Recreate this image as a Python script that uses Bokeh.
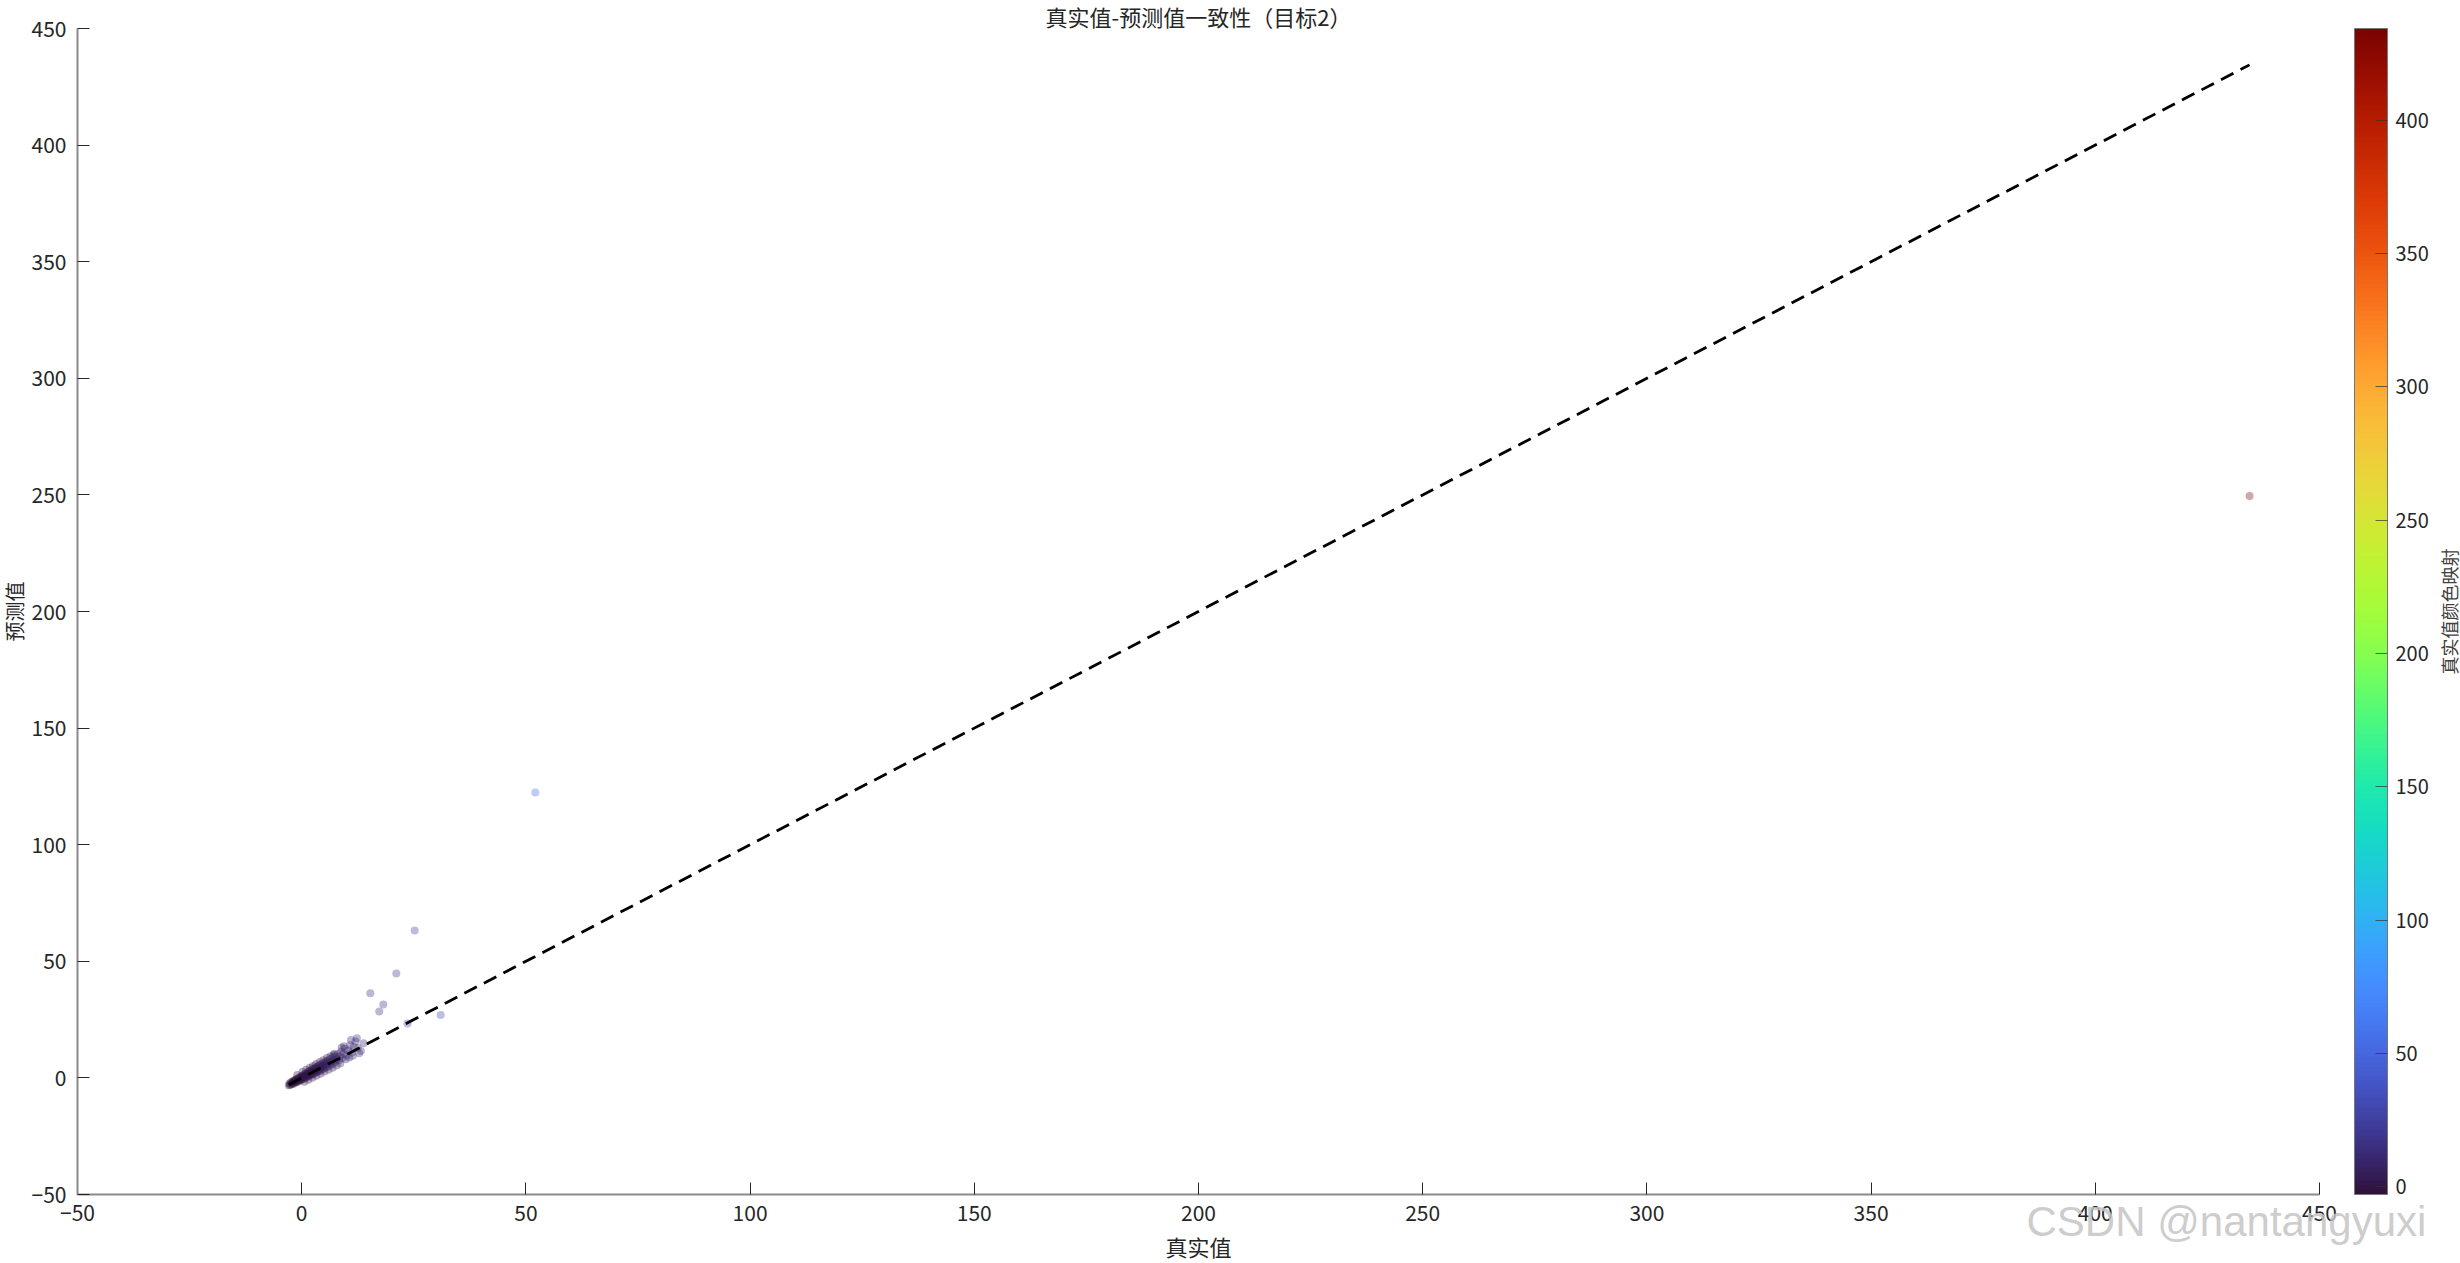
from bokeh.plotting import figure
from bokeh.models import ColumnDataSource, LinearColorMapper, ColorBar, FixedTicker, Label
from bokeh.palettes import Turbo256
from bokeh.transform import transform
from bokeh.embed import file_html
from bokeh.resources import INLINE

# ---------------- data ----------------
true_vals = [
    -2.9, -2.7, -2.6, -2.4, -2.3, -2.1, -2.0, -1.9, -1.8, -1.7, -1.6, -1.5, -1.4, -1.3,
    -1.2, -1.1, -1.0, -0.9, -0.8, -0.7, -0.6, -0.5, -0.4, -0.3, -0.2, -0.1, 0.0, 0.0,
    0.1, 0.2, 0.3, 0.4, 0.5, 0.6, 0.7, 0.8, 0.9, 1.0, 1.1, 1.2, 1.3, 1.4, 1.5, 1.6,
    1.7, 1.8, 1.9, 2.0, 2.1, 2.2, 2.3, 2.4, 2.5, 2.6, 2.7, 2.8, 2.9, 3.0, 3.1, 3.2,
    3.3, 3.4, 3.5, 3.6, 3.7, 3.8, 3.9, 4.0, 4.2, 4.3, 4.4, 4.6, 4.7, 4.8, 5.0, 5.1,
    5.2, 5.4, 5.5, 5.6, 5.8, 6.0, 6.1, 6.3, 6.5, 6.6, 6.8, 7.0, 7.2, 7.4, 7.6, 7.8,
    8.0, 8.3, 8.5, 8.8, 9.0, 9.3, 9.6, 10.0, 10.4, 10.8, 11.2, 11.6, 12.0, 12.5, 13.2,
    13.8, 9.4, 11.0, 12.3, 7.1, 8.9,
    -1.0, 0.2, 1.0, 1.8, 2.5, 3.2, 4.0, 4.8, 5.6, 6.4, 7.3, 0.6, 1.5, 2.4, 3.3, 4.2,
    5.1, 6.0, 6.9, 7.8, 8.6, 9.8, 10.6, 11.4, 12.8,
    23.6, 17.3, 18.2, 15.3, 21.1, 25.2, 31.0, 52.1, 434.4,
]
pred_vals = [
    -3.2, -2.4, -3.0, -1.9, -2.7, -2.2, -1.5, -2.6, -1.2, -2.0, -1.6, -0.9, -2.1, -1.3,
    -0.6, -1.8, -1.0, -0.3, -1.5, -0.8, 0.1, -1.2, -0.5, 0.4, -0.9, -0.2, 0.7, -0.6,
    0.1, 1.0, -0.4, 0.5, 1.4, -0.1, 0.8, 1.7, 0.2, 1.1, 2.0, 0.5, 1.4, 2.4, 0.8, 1.7,
    2.8, 1.0, 2.0, 3.1, 1.3, 2.4, 3.5, 1.6, 2.7, 3.8, 1.9, 3.0, 4.1, 2.2, 3.3, 4.5,
    2.5, 3.7, 4.8, 2.8, 4.0, 5.2, 3.0, 4.3, 5.6, 3.4, 4.7, 6.0, 3.8, 5.1, 6.5, 4.2,
    5.5, 7.0, 4.6, 6.0, 7.4, 5.1, 6.5, 8.0, 5.6, 7.0, 8.6, 6.2, 7.6, 9.3, 6.9, 8.3,
    10.1, 7.6, 9.2, 11.2, 8.4, 10.3, 12.5, 9.6, 11.8, 14.0, 10.9, 13.2, 15.6, 12.8, 11.5,
    14.9, 13.6, 16.2, 17.0, 9.8, 12.9,
    1.2, 2.6, 3.5, 4.3, 5.1, 6.0, 6.8, 7.6, 8.5, 9.3, 10.4, -1.6, -0.8, 0.1, 0.9, 1.8,
    2.7, 3.5, 4.4, 5.3, 6.2, 8.0, 8.7, 9.5, 10.6,
    23.3, 28.5, 31.5, 36.3, 44.8, 63.2, 27.0, 122.4, 249.5,
]

x_ticks = [-50, 0, 50, 100, 150, 200, 250, 300, 350, 400, 450]
y_ticks = [-50, 0, 50, 100, 150, 200, 250, 300, 350, 400, 450]
cbar_ticks = [0, 50, 100, 150, 200, 250, 300, 350, 400]

title_text = "真实值-预测值一致性（目标2）"
x_label = "真实值"
y_label = "预测值"
cbar_label = "真实值颜色映射"
watermark = "CSDN @nantangyuxi"

# ---------------- layout constants (pixels from the picture's top-left) ----------------
ORIGIN = 0                 # where the figure's canvas starts in the picture
FIG_W, FIG_H = 2460, 1263
AX_L, AX_R = 77, 2319      # x=-50 and x=450
AX_T, AX_B = 28, 1194      # y=450 and y=-50
X0, X1, Y0, Y1 = -50, 450, -50, 450
sx = (AX_R - AX_L) / (X1 - X0)
sy = (AX_B - AX_T) / (Y1 - Y0)


def px_x(page_x):
    return X0 + (page_x - AX_L) / sx


def px_y(page_y):
    return Y0 + (AX_B - page_y) / sy


# the frame covers the whole figure; axes are drawn at fixed locations
x_start, x_end = px_x(ORIGIN), px_x(ORIGIN + FIG_W)
y_start, y_end = px_y(ORIGIN + FIG_H), px_y(ORIGIN)

CJK = "Noto Sans CJK SC"
TXT = "#262626"

p = figure(
    width=FIG_W, height=FIG_H,
    x_range=(x_start, x_end), y_range=(y_start, y_end),
    output_backend="svg", toolbar_location=None,
    min_border_left=0, min_border_right=0, min_border_bottom=0, min_border_top=0,
)
p.outline_line_color = None
p.xgrid.visible = False
p.ygrid.visible = False
p.background_fill_color = "white"
p.border_fill_color = "white"

for ax in (p.xaxis[0], p.yaxis[0]):
    ax.axis_line_color = "#8a8a8a"
    ax.axis_line_width = 2
    ax.major_tick_line_color = "#262626"
    ax.major_tick_line_width = 1
    ax.major_tick_in = 12
    ax.major_tick_out = 0
    ax.minor_tick_line_color = None
    ax.major_label_text_font = CJK
    ax.major_label_text_font_size = "21px"
    ax.major_label_text_color = TXT
    ax.major_label_standoff = 10
    ax.axis_label_text_font = CJK
    ax.axis_label_text_font_size = "22px"
    ax.axis_label_text_font_style = "normal"
    ax.axis_label_text_color = TXT
    ax.axis_label_standoff = 6

p.xaxis.ticker = FixedTicker(ticks=x_ticks)
p.yaxis.ticker = FixedTicker(ticks=y_ticks)
p.xaxis.bounds = (X0, X1)
p.yaxis.bounds = (Y0, Y1)
p.xaxis.fixed_location = Y0
p.yaxis.fixed_location = X0
p.xaxis.axis_label = x_label
p.yaxis.axis_label = y_label
p.yaxis.axis_label_standoff = 0
p.yaxis.axis_label_text_font_size = "20px"
p.yaxis.major_label_standoff = 11

lo = min(true_vals)
hi = max(true_vals)
mapper = LinearColorMapper(palette=Turbo256, low=lo, high=hi)

src = ColumnDataSource(dict(t=true_vals, pr=pred_vals))
p.scatter("t", "pr", source=src, size=8, marker="circle",
          fill_color=transform("t", mapper), fill_alpha=0.35, line_color=None)

# identity reference line from min to max of true values
p.line([lo, hi], [lo, hi], line_color="black", line_width=2.8, line_dash="14 8")

cb = ColorBar(
    color_mapper=mapper, ticker=FixedTicker(ticks=cbar_ticks),
    width=33, height=AX_B - AX_T,
    location=(2354 - ORIGIN, ORIGIN + FIG_H - AX_B), padding=0, margin=0,
    major_tick_in=12, major_tick_out=0,
    major_tick_line_color="#333333", major_tick_line_alpha=0.7,
    bar_line_color="#777777", bar_line_width=1,
    major_label_text_font=CJK, major_label_text_font_size="20px",
    major_label_text_color=TXT, label_standoff=8,
    background_fill_alpha=0, border_line_color=None,
)
p.add_layout(cb, "center")

# title
p.add_layout(Label(x=px_x((AX_L + AX_R) / 2), y=px_y(15), text=title_text,
                   text_align="center", text_baseline="middle",
                   text_font=CJK, text_font_size="22px", text_color=TXT))

# colour bar label, reading bottom to top
p.add_layout(Label(x=px_x(2448), y=px_y((AX_T + AX_B) / 2),
                   text=cbar_label, angle=90, angle_units="deg",
                   text_align="center", text_baseline="middle",
                   text_font=CJK, text_font_size="18px", text_color="#404040"))

p.add_layout(Label(x=px_x(2026), y=px_y(1221), text=watermark,
                   text_align="left", text_baseline="middle",
                   text_font="Liberation Sans", text_font_size="42px",
                   text_color="#c4c4c4", text_alpha=0.85))

open("out.html", "w").write(file_html(p, INLINE))
